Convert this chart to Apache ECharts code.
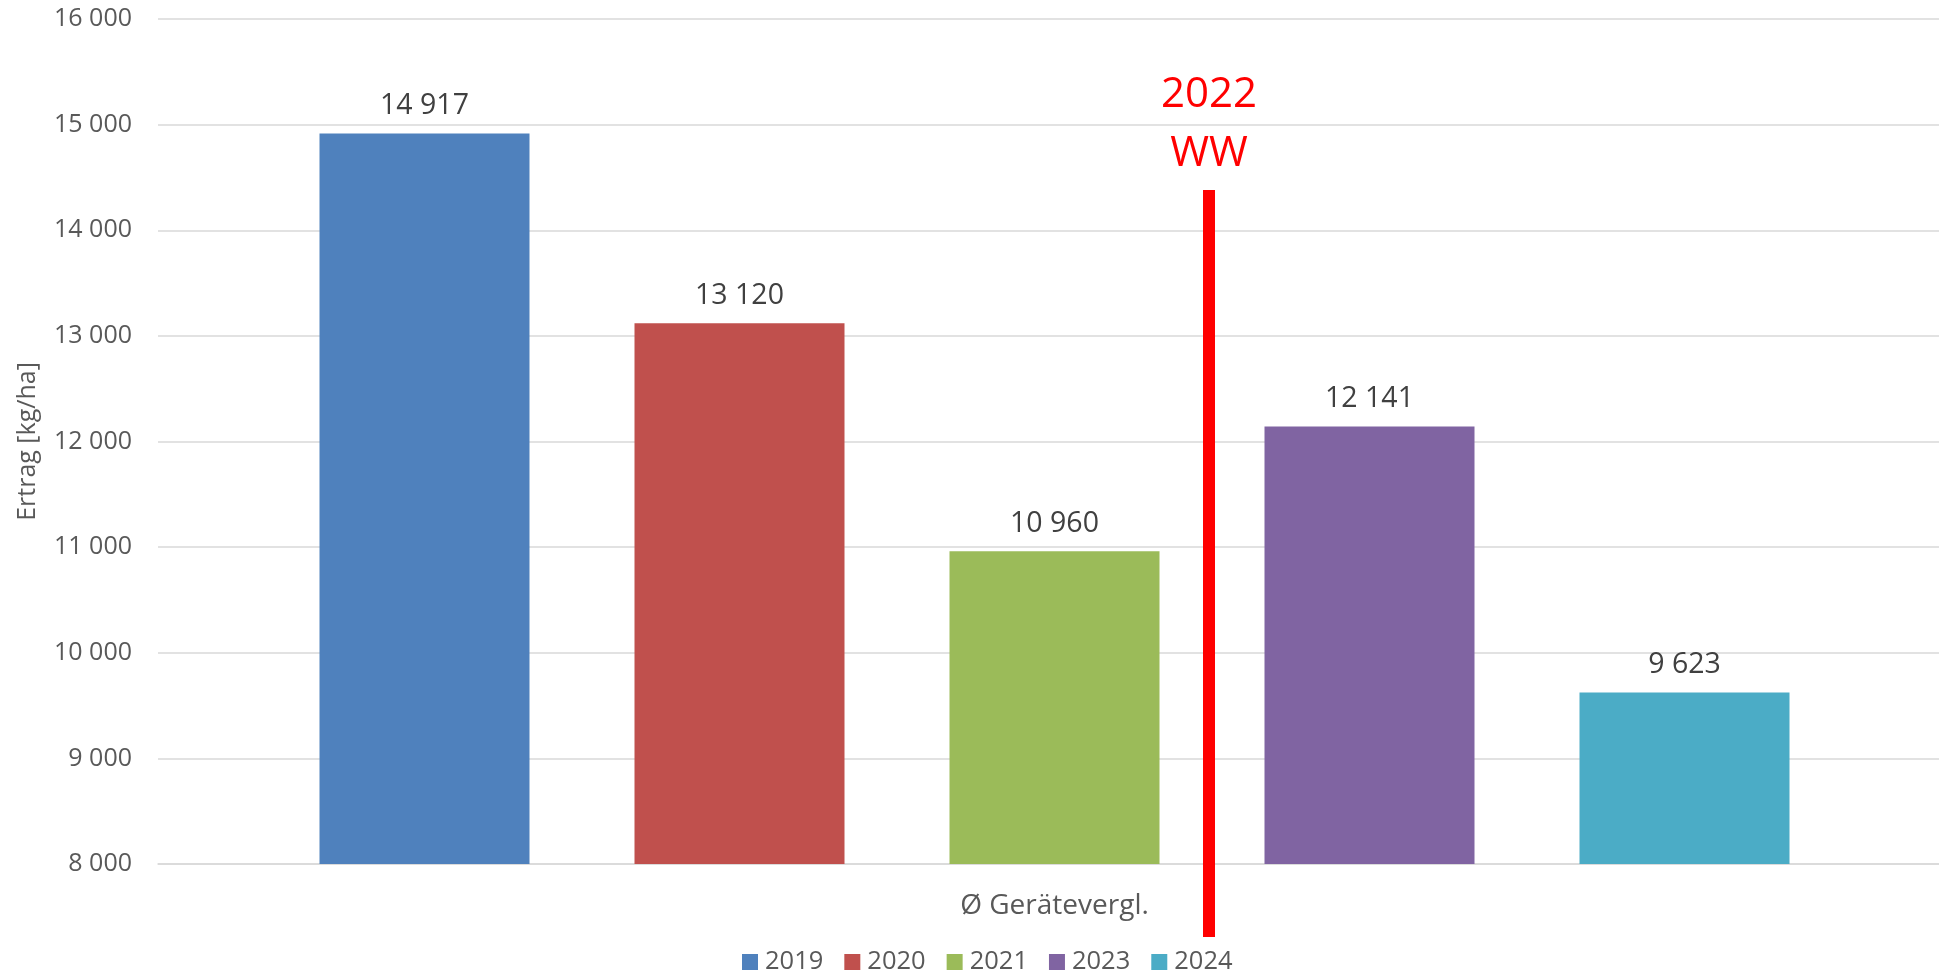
<!DOCTYPE html>
<html>
<head>
<meta charset="utf-8">
<script src="https://cdn.jsdelivr.net/npm/echarts@6/dist/echarts.min.js"></script>
<style>
  html, body { margin: 0; padding: 0; background: #fff; }
  #chart { width: 1939px; height: 979px; }
</style>
</head>
<body>
<div id="chart"></div>
<script>
const category = ["Ø Gerätevergl."];
const years = ["2019", "2020", "2021", "2023", "2024"];
const yields = [14917, 13120, 10960, 12141, 9623];
const colors = ["#4F81BD", "#C0504D", "#9BBB59", "#8064A2", "#4BACC6"];
const yTicks = { min: 8000, max: 16000, step: 1000 };

const fmt = (v) => String(v).replace(/\B(?=(\d{3})+(?!\d))/g, " ");
const font = "Open Sans";

const chart = echarts.init(document.getElementById("chart"));

const series = years.map((y, i) => ({
  name: y,
  type: "bar",
  data: [yields[i]],
  barWidth: 210,
  barGap: "50%",
  itemStyle: { color: colors[i] },
  label: {
    show: true,
    position: "top",
    distance: 13,
    formatter: (p) => fmt(p.value),
    color: "#404040",
    fontSize: 28.5,
    fontFamily: font,
  },
}));

chart.setOption({
  animation: false,
  color: colors,
  grid: { left: 158, right: -12, top: 19, bottom: 115, outerBoundsMode: "none" },
  legend: {
    bottom: -1,
    left: 737,
    itemWidth: 16,
    itemHeight: 16,
    itemGap: 21,
    icon: "rect",
    textStyle: { color: "#595959", fontSize: 25.5, fontFamily: font, padding: [0, 0, 0, 2] },
  },
  xAxis: {
    type: "category",
    data: category,
    axisLine: { lineStyle: { color: "#d9d9d9", width: 1.5 } },
    axisTick: { show: false },
    axisLabel: { color: "#595959", fontSize: 28, fontFamily: font, margin: 28 },
  },
  yAxis: {
    type: "value",
    min: yTicks.min,
    max: yTicks.max,
    interval: yTicks.step,
    name: "Ertrag [kg/ha]",
    nameLocation: "middle",
    nameRotate: 90,
    nameGap: 118,
    nameTextStyle: { color: "#595959", fontSize: 25, fontFamily: font },
    axisLabel: { color: "#595959", fontSize: 25, fontFamily: font, margin: 26, formatter: fmt },
    splitLine: { lineStyle: { color: "#d9d9d9", width: 1.5 } },
  },
  graphic: [
    {
      type: "rect",
      shape: { x: 1203, y: 190, width: 12, height: 747 },
      style: { fill: "#FF0000" },
      z: 100,
    },
    {
      type: "text",
      x: 1209, y: 95,
      style: { text: "2022", fill: "#FF0000", fontSize: 42, fontFamily: font, align: "center", verticalAlign: "middle" },
    },
    {
      type: "text",
      x: 1209, y: 154,
      style: { text: "WW", fill: "#FF0000", fontSize: 42, fontFamily: font, align: "center", verticalAlign: "middle" },
    },
  ],
  series,
});
</script>
</body>
</html>
